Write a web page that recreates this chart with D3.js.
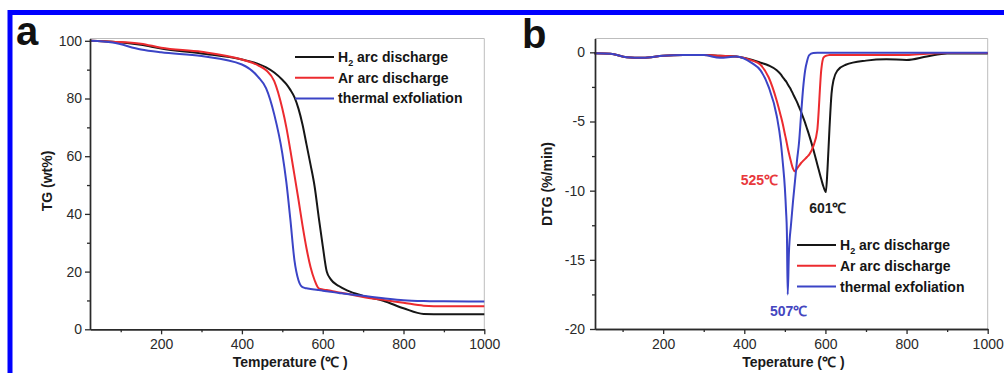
<!DOCTYPE html>
<html>
<head>
<meta charset="utf-8">
<title>TG / DTG</title>
<script src="https://cdn.jsdelivr.net/npm/d3@7"></script>
<style>
  html,body{margin:0;padding:0;background:#fff;overflow:hidden;}
  svg{display:block;font-family:"Liberation Sans",Arial,Helvetica,sans-serif;}
  .tick text{font-size:14px;fill:#2a2a2a;}
  .title{font-size:14px;font-weight:bold;fill:#1a1a1a;}
  .leg{font-size:14px;font-weight:bold;fill:#151515;}
</style>
</head>
<body>
<div id="chart"></div>
<script>
// ---- data ----
const seriesNames = ["H2 arc discharge", "Ar arc discharge", "thermal exfoliation"];
const seriesColors = ["#161616", "#ec2b2f", "#3b44c6"];

// panel a: TG (wt%)
const tgTemps = [25, 80, 150, 200, 300, 400, 440, 460, 480, 500, 510, 520, 530, 540, 550,
                 560, 570, 580, 590, 600, 610, 620, 640, 660, 700, 750, 800, 850, 900, 1000];
const tgH2 = [100, 99.7, 98.6, 97.3, 95.6, 93.5, 92, 90.8, 89, 86.5, 85, 83, 80.5, 76.5, 71,
              64, 57, 49.5, 39, 29, 20, 17.3, 15, 13.5, 11.6, 9.9, 7.3, 5.3, 5.2, 5.2];
const tgAr = [100, 99.7, 99, 97.6, 96.2, 93.5, 91.5, 89.8, 86, 76.5, 70, 62, 53.5, 45, 36,
              28, 21.5, 17, 14.2, 13.8, 13.6, 13.4, 12.8, 12.3, 11.2, 10.2, 9.2, 8.2, 8, 8];
const tgTE = [100, 99.4, 97, 96, 94.7, 91.8, 87.5, 83.5, 74.5, 61, 51, 38, 24, 17, 14.6,
              14.2, 14, 13.8, 13.6, 13.4, 13.2, 13, 12.6, 12.2, 11.6, 10.8, 10.1, 9.8, 9.7, 9.6];

// panel b: DTG (%/min)
const dtgTemps = [30, 70, 110, 150, 200, 250, 300, 340, 380, 420, 440, 460, 480, 490, 495, 500,
                  503, 505, 507, 510, 515, 520, 525, 530, 535, 540, 545, 550, 555, 560, 570, 580,
                  590, 595, 601, 605, 610, 615, 620, 630, 650, 700, 750, 800, 850, 900, 1000];
const dtgH2 = [-0.07, -0.1, -0.35, -0.4, -0.25, -0.2, -0.2, -0.25, -0.3, -0.55, -0.75, -0.95, -1.3, -1.6, -1.8, -2.0,
               -2.1, -2.2, -2.3, -2.45, -2.7, -3.0, -3.3, -3.6, -3.95, -4.3, -4.7, -5.1, -5.55, -6.0, -7.0, -8.1,
               -9.2, -9.7, -10.1, -8.5, -5.5, -3.0, -2.0, -1.3, -0.9, -0.6, -0.5, -0.55, -0.3, -0.08, -0.08];
const dtgAr = [-0.07, -0.1, -0.35, -0.4, -0.25, -0.2, -0.2, -0.25, -0.3, -0.6, -0.9, -1.8, -3.5, -4.6, -5.2, -5.9,
               -6.3, -6.6, -6.9, -7.3, -7.9, -8.4, -8.6, -8.4, -8.2, -8.0, -7.85, -7.7, -7.55, -7.4, -6.8, -5.6,
               -1.2, -0.4, -0.25, -0.22, -0.2, -0.2, -0.2, -0.2, -0.2, -0.2, -0.2, -0.2, -0.1, -0.05, -0.05];
const dtgTE = [-0.07, -0.1, -0.35, -0.4, -0.25, -0.2, -0.2, -0.4, -0.3, -0.8, -1.3, -2.5, -4.6, -6.5, -8.0, -9.8,
               -11.5, -13.0, -17.5, -14.5, -12.5, -10.8, -9.3, -7.8, -6.5, -4.5, -2.6, -1.3, -0.6, -0.2, -0.05, -0.03,
               -0.03, -0.03, -0.03, -0.03, -0.03, -0.03, -0.03, -0.03, -0.03, -0.03, -0.03, -0.03, -0.03, -0.03, -0.03];

const xTicks = [200, 400, 600, 800, 1000];
const xMinor = [100, 300, 500, 700, 900];
const tgTicks = [0, 20, 40, 60, 80, 100];
const tgMinor = [10, 30, 50, 70, 90];
const dtgTicks = [-20, -15, -10, -5, 0];
const dtgMinor = [-17.5, -12.5, -7.5, -2.5];

const peaks = [
  {label: "525℃", t: 525, v: -8.6, color: "#e8383c", anchor: "end", dx: -17, dy: 14},
  {label: "601℃", t: 601, v: -10.1, color: "#1e1e1e", anchor: "middle", dx: 2, dy: 21},
  {label: "507℃", t: 507, v: -17.5, color: "#4446c0", anchor: "middle", dx: 1, dy: 22}
];

const W = 1004, H = 373;
const svg = d3.select("#chart").append("svg").attr("width", W).attr("height", H);

// blue outer frame (runs off the right and bottom edge)
svg.append("rect")
  .attr("x", 10).attr("y", 12.5).attr("width", 1100).attr("height", 500)
  .attr("fill", "none").attr("stroke", "#0000ff").attr("stroke-width", 5);

const plain = d => String(d); // hyphen minus, no thousands comma

function panel(opt) {
  const g = svg.append("g");
  const x = d3.scaleLinear().domain(opt.xDomain).range([opt.left, opt.right]);
  const y = d3.scaleLinear().domain(opt.yDomain).range([opt.bottom, opt.top]);

  // light frame top/right
  g.append("path")
    .attr("d", `M${opt.left},${opt.top}H${opt.right}V${opt.bottom}`)
    .attr("fill", "none").attr("stroke", "#bdbdbd").attr("stroke-width", 1);

  // lines
  const line = d3.line().x(d => x(d[0])).y(d => y(d[1])).curve(d3.curveMonotoneX);
  opt.series.forEach((vals, i) => {
    g.append("path")
      .datum(opt.temps.map((t, j) => [t, vals[j]]))
      .attr("d", line)
      .attr("fill", "none")
      .attr("stroke", seriesColors[i])
      .attr("stroke-width", 2)
      .attr("stroke-linejoin", "round");
  });

  // axes
  g.append("g").attr("transform", `translate(0,${opt.bottom})`)
    .call(d3.axisBottom(x).tickValues(xTicks).tickFormat(plain).tickSize(5).tickSizeOuter(0).tickPadding(5));
  g.append("g").attr("transform", `translate(0,${opt.bottom})`)
    .call(d3.axisBottom(x).tickValues(xMinor).tickSize(3).tickSizeOuter(0).tickFormat(""));
  g.append("g").attr("transform", `translate(${opt.left},0)`)
    .call(d3.axisLeft(y).tickValues(opt.yTicks).tickFormat(plain).tickSize(5).tickSizeOuter(0).tickPadding(opt.yPad));
  g.append("g").attr("transform", `translate(${opt.left},0)`)
    .call(d3.axisLeft(y).tickValues(opt.yMinor).tickSize(3).tickSizeOuter(0).tickFormat(""));
  g.selectAll(".domain").attr("stroke", "#2a2a2a").attr("stroke-width", 1.4);
  g.selectAll(".tick line").attr("stroke", "#2a2a2a").attr("stroke-width", 1.3);
  g.selectAll(".tick text").attr("font-family", null).attr("font-size", null).attr("fill", null);

  // titles
  g.append("text").attr("class", "title")
    .attr("x", (opt.left + opt.right) / 2 + opt.xTitleShift).attr("y", 367)
    .attr("text-anchor", "middle").text(opt.xTitle);
  g.append("text").attr("class", "title")
    .attr("transform", `translate(${opt.yTitleX},${opt.yTitleY}) rotate(-90)`)
    .attr("text-anchor", "middle").attr("dy", "0.35em").text(opt.yTitle);

  // panel letter
  g.append("text").attr("x", opt.letterX).attr("y", opt.letterY)
    .attr("font-size", 40).attr("font-weight", "bold").attr("fill", "#111")
    .text(opt.letter);

  // legend
  const leg = g.append("g");
  seriesNames.forEach((name, i) => {
    const yy = opt.legY + i * opt.legStep;
    leg.append("line")
      .attr("x1", opt.legX).attr("x2", opt.legX + 39)
      .attr("y1", yy).attr("y2", yy)
      .attr("stroke", seriesColors[i]).attr("stroke-width", 2);
    const t = leg.append("text").attr("class", "leg")
      .attr("x", opt.legX + 43).attr("y", yy + 5);
    if (i === 0) {
      t.append("tspan").text("H");
      t.append("tspan").attr("font-size", 9).attr("dy", 4).text("2");
      t.append("tspan").attr("dy", -4).text(" arc discharge");
    } else {
      t.text(name);
    }
  });
  return {g, x, y};
}

panel({
  left: 90, right: 484.3, top: 38.5, bottom: 329.3,
  xDomain: [24, 1000], yDomain: [0, 100.8],
  temps: tgTemps, series: [tgH2, tgAr, tgTE],
  yTicks: tgTicks, yMinor: tgMinor, yPad: 3,
  xTitle: "Temperature (℃ )", xTitleShift: 3,
  yTitle: "TG (wt%)", yTitleX: 47, yTitleY: 181,
  letter: "a", letterX: 16, letterY: 45,
  legX: 295, legY: 57, legStep: 20.7
});

const pb = panel({
  left: 595, right: 987.7, top: 38.5, bottom: 329,
  xDomain: [32, 1000], yDomain: [-20, 1],
  temps: dtgTemps, series: [dtgH2, dtgAr, dtgTE],
  yTicks: dtgTicks, yMinor: dtgMinor, yPad: 5,
  xTitle: "Teperature (℃ )", xTitleShift: 2,
  yTitle: "DTG (%/min)", yTitleX: 547, yTitleY: 184,
  letter: "b", letterX: 522, letterY: 48,
  legX: 797, legY: 245, legStep: 20.8
});

// peak annotations
peaks.forEach(p => {
  pb.g.append("text")
    .attr("x", pb.x(p.t) + p.dx).attr("y", pb.y(p.v) + p.dy)
    .attr("text-anchor", p.anchor)
    .attr("font-size", 14).attr("font-weight", "bold").attr("fill", p.color)
    .text(p.label);
});
</script>
</body>
</html>
